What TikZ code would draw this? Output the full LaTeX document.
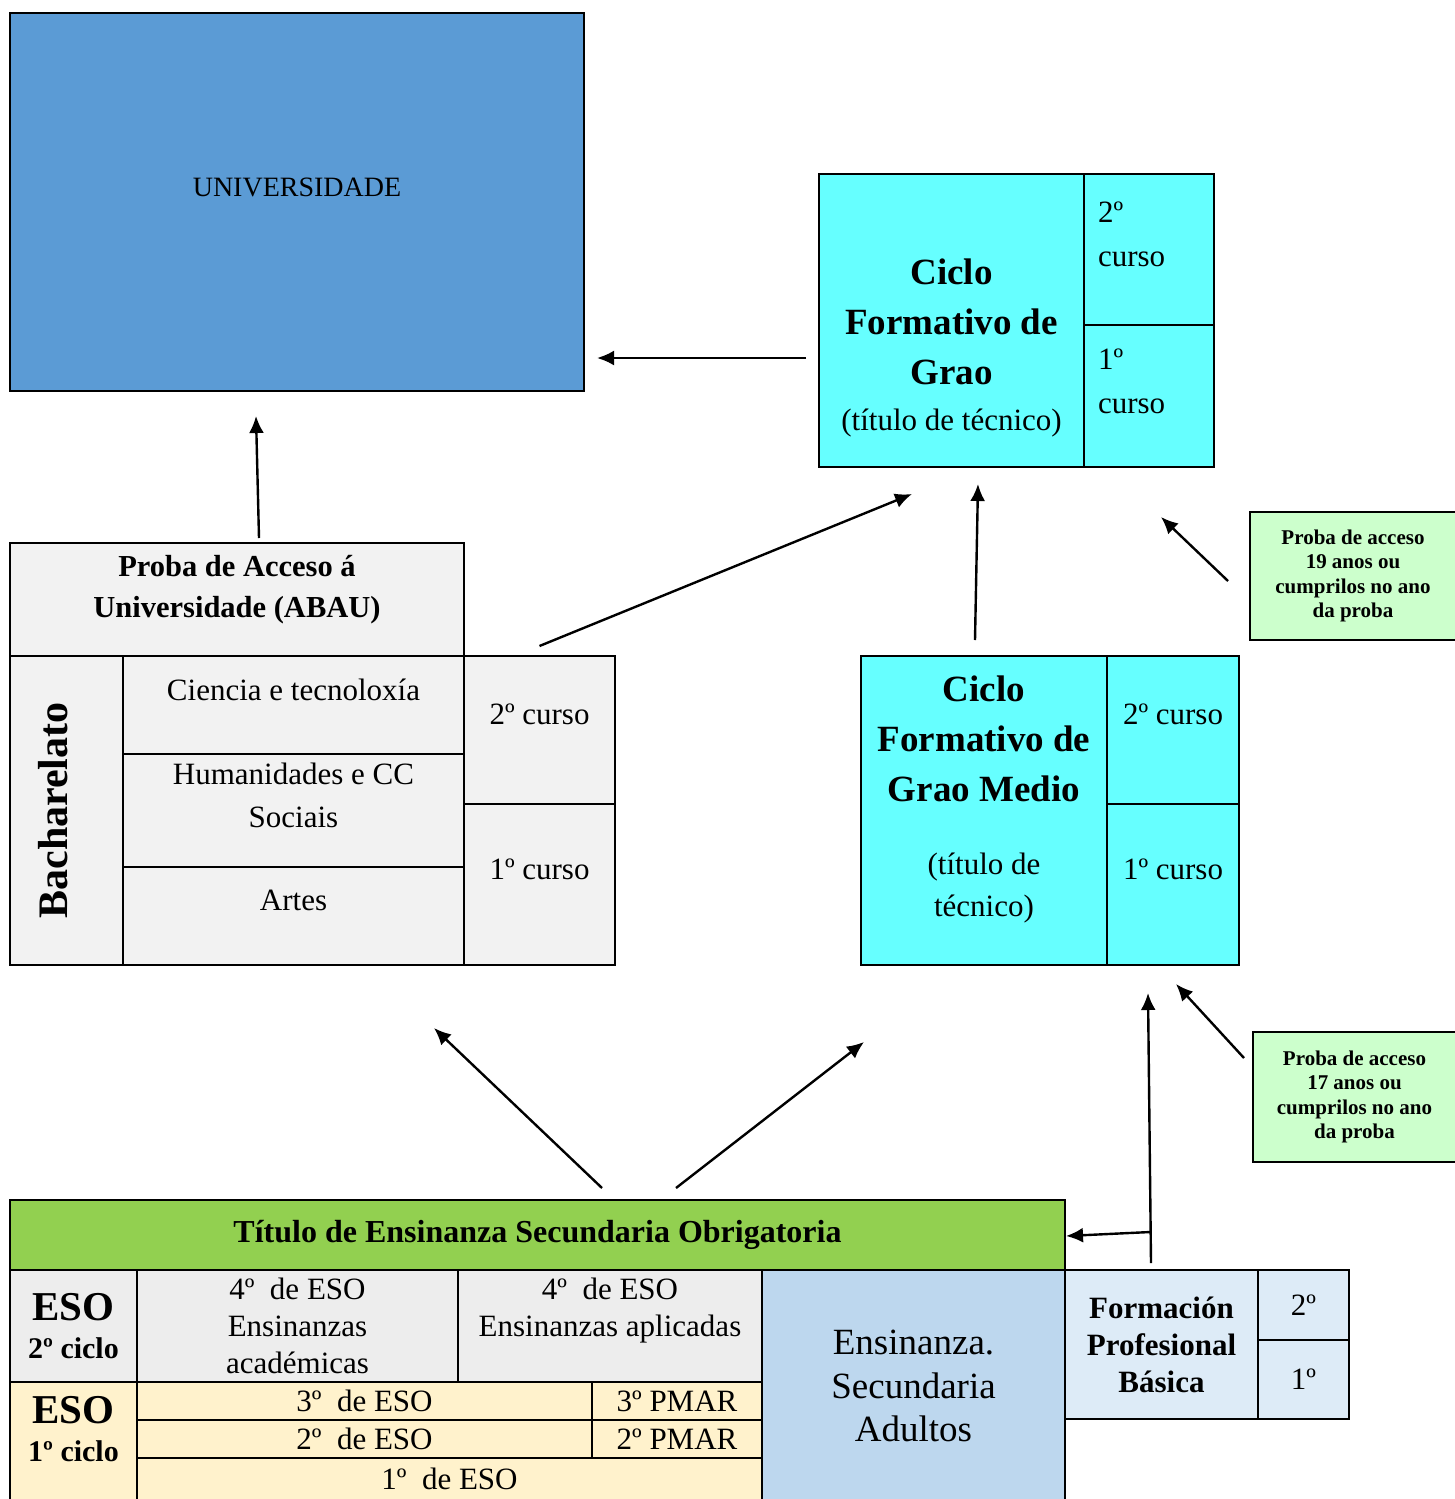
\documentclass[tikz,border=0pt]{standalone}
\usepackage{fontspec}
\setmainfont{Liberation Serif}
\usetikzlibrary{arrows.meta}
\definecolor{univblue}{HTML}{5B9BD5}
\definecolor{ciclo}{HTML}{66FFFF}
\definecolor{bgrey}{HTML}{F2F2F2}
\definecolor{proba}{HTML}{CCFFCC}
\definecolor{titgreen}{HTML}{92D050}
\definecolor{esotwo}{HTML}{EDEDED}
\definecolor{esoone}{HTML}{FFF2CC}
\definecolor{adult}{HTML}{BDD7EE}
\definecolor{fpblue}{HTML}{DDEBF7}
\newcommand\tnorm{\normalfont\fontsize{31}{37}\selectfont}

\begin{document}
\begin{tikzpicture}[x=1pt,y=-1pt,
    cell/.style={draw,line width=1.8pt,anchor=north west,inner sep=0pt,outer sep=0pt,align=center,font=\tnorm},
    hd/.style={font=\bfseries\fontsize{37}{50}\selectfont},
    pr/.style={cell,fill=proba,font=\bfseries\fontsize{21}{24.5}\selectfont},
    arr/.style={line width=2.4pt,-{Latex[length=17pt,width=15pt]}}]
\useasboundingbox (0,0) rectangle (1454,1499);

% universidade e ciclo superior
\node[cell,fill=univblue,minimum width=574pt,minimum height=378pt,font=\fontsize{28}{34}\selectfont] (univ) at (10,13) {UNIVERSIDADE\\[-4pt]\mbox{}};
\node[cell,hd,fill=ciclo,minimum width=265pt,minimum height=293pt] (cfgs) at (819,174)
    {\mbox{}\\[31pt]Ciclo\\Formativo de\\Grao\\[-4pt]\tnorm(título de técnico)};
\node[cell,fill=ciclo,minimum width=130pt,minimum height=151pt,align=left,text width=102pt,inner xsep=14pt] (cfgs2) at (1084,174) {2º\\[7pt]curso\\[-6pt]\mbox{}};
\node[cell,fill=ciclo,minimum width=130pt,minimum height=142pt,align=left,text width=102pt,inner xsep=14pt] (cfgs1) at (1084,325) {1º\\[7pt]curso\\[-8pt]\mbox{}};
\node[pr,minimum width=206pt,minimum height=128pt] (p19) at (1250,512) {Proba de acceso\\19 anos ou\\cumprilos no ano\\da proba};

% bacharelato
\node[cell,fill=bgrey,minimum width=454pt,minimum height=113pt,font=\bfseries\fontsize{30.5}{41}\selectfont] (abau) at (10,543) {Proba de Acceso á\\Universidade (ABAU)\\[-14pt]\mbox{}};
\node[cell,fill=bgrey,anchor=center,rotate=90,minimum width=309pt,minimum height=113pt,font=\bfseries\fontsize{42}{27}\selectfont] (bach) at (66.5,810.5) {Bacharelato\\\mbox{}};
\node[cell,fill=bgrey,minimum width=341pt,minimum height=98pt] (cien) at (123,656) {Ciencia e tecnoloxía\\[-6pt]\mbox{}};
\node[cell,fill=bgrey,minimum width=341pt,minimum height=113pt] (huma) at (123,754) {Humanidades e CC\\[6pt]Sociais\\[-6pt]\mbox{}};
\node[cell,fill=bgrey,minimum width=341pt,minimum height=98pt] (artes) at (123,867) {Artes\\[-6pt]\mbox{}};
\node[cell,fill=bgrey,minimum width=151pt,minimum height=148pt] (bc2) at (464,656) {2º curso\\[-6pt]\mbox{}};
\node[cell,fill=bgrey,minimum width=151pt,minimum height=161pt] (bc1) at (464,804) {1º curso\\[-6pt]\mbox{}};

% ciclo medio
\node[cell,hd,fill=ciclo,minimum width=246pt,minimum height=309pt] (cfgm) at (861,656)
    {Ciclo\\Formativo de\\Grao Medio\\[23pt]\tnorm(título de\\[-8pt]\tnorm técnico)\\[-21pt]\mbox{}};
\node[cell,fill=ciclo,minimum width=132pt,minimum height=148pt] (m2) at (1107,656) {2º curso\\[-6pt]\mbox{}};
\node[cell,fill=ciclo,minimum width=132pt,minimum height=161pt] (m1) at (1107,804) {1º curso\\[-6pt]\mbox{}};
\node[pr,minimum width=203pt,minimum height=130pt] (p17) at (1253,1032) {Proba de acceso\\17 anos ou\\cumprilos no ano\\da proba};

% ESO
\node[cell,fill=titgreen,minimum width=1055pt,minimum height=70pt,font=\bfseries\fontsize{32}{38}\selectfont] (tit) at (10,1200) {Título de Ensinanza Secundaria Obrigatoria};
\node[cell,fill=esotwo,minimum width=127pt,minimum height=112pt,font=\bfseries\fontsize{41}{38}\selectfont] (eso2) at (10,1270) {ESO\\\fontsize{30}{38}\selectfont 2º ciclo};
\node[cell,fill=esotwo,minimum width=321pt,minimum height=112pt] (acad) at (137,1270) {4º~ de ESO\\Ensinanzas\\académicas};
\node[cell,fill=esotwo,minimum width=304pt,minimum height=112pt] (apli) at (458,1270) {4º~ de ESO\\Ensinanzas aplicadas\\\mbox{}};
\node[cell,fill=esoone,minimum width=127pt,minimum height=120pt,font=\bfseries\fontsize{41}{38}\selectfont] (eso1) at (10,1382) {ESO\\\fontsize{30}{38}\selectfont 1º ciclo\\[-12pt]\mbox{}};
\foreach \n/\y in {3/1382,2/1420} {
    \node[cell,fill=esoone,minimum width=455pt,minimum height=38pt] (e\n) at (137,\y) {{\n}º~ de ESO};
    \node[cell,fill=esoone,minimum width=170pt,minimum height=38pt] (pm\n) at (592,\y) {{\n}º PMAR};
}
\node[cell,fill=esoone,minimum width=625pt,minimum height=44pt] (e1) at (137,1458) {1º~ de ESO\\[-34pt]\mbox{}};
\node[cell,fill=adult,minimum width=303pt,minimum height=232pt,font=\fontsize{37}{43.5}\selectfont] (adul) at (762,1270) {Ensinanza.\\Secundaria\\Adultos};
\node[cell,fill=fpblue,minimum width=193pt,minimum height=149pt,font=\bfseries\fontsize{31}{37}\selectfont] (fpb) at (1065,1270) {Formación\\Profesional\\Básica};
\node[cell,fill=fpblue,minimum width=91pt,minimum height=70pt] (f2) at (1258,1270) {2º};
\node[cell,fill=fpblue,minimum width=91pt,minimum height=79pt] (f1) at (1258,1340) {1º};

% frechas
\draw[arr] ([shift={(22,-5)}]abau.north) -- ([shift={(-41,25)}]univ.south);
\draw[arr] ([shift={(-13,37.5)}]cfgs.west) -- ([shift={(13,156)}]univ.east);
\draw[arr] ([shift={(0,-10)}]bc2.north) -- ([shift={(-39.5,27)}]cfgs.south);
\draw[arr] ([shift={(-9,-16)}]cfgm.north) -- ([shift={(26.5,17)}]cfgs.south);
\draw[arr] ([shift={(-22,5)}]p19.west) -- ([shift={(12,50)}]cfgs1.south);
\draw[arr] ([shift={(64.5,-12)}]tit.north) -- ([shift={(140.5,63)}]artes.south);
\draw[arr] ([shift={(138.5,-12)}]tit.north) -- ([shift={(-120,77)}]cfgm.south);
\draw[arr] ([shift={(-9,-39)}]p17.west) -- ([shift={(3,19)}]m1.south);
\draw[arr] ([shift={(-10.5,-7)}]fpb.north) -- ([shift={(-25,28)}]m1.south);
\coordinate (fork) at ([shift={(-11,-38)}]fpb.north);
\draw[arr] (fork) -- ([shift={(1,1)}]tit.east);
\end{tikzpicture}
\end{document}
